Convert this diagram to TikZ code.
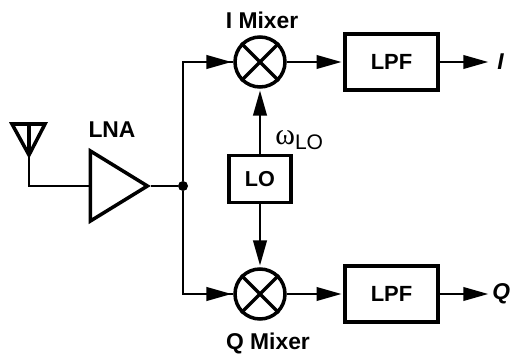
\documentclass[tikz,border=0pt]{standalone}
\usepackage{fontspec}
\setmainfont{Liberation Sans}
\newfontfamily\omegafont{Liberation Serif}
\usepackage{xcolor}
\usetikzlibrary{
  arrows.meta,
  positioning,
  shapes.geometric
}
\tikzset{
  wire/.style={line width=1.3pt},
  sig/.style={wire,-{Triangle[length=0.5cm,width=0.27cm]},shorten >=1pt},
  thick box/.style={draw,line width=2pt,inner sep=0pt},
  blockbox/.style={thick box,minimum width=1.86cm,minimum height=1.12cm,font=\fontsize{12.5}{14}\selectfont\bfseries},
  lobox/.style={thick box,minimum width=1.24cm,minimum height=0.94cm,font=\fontsize{12.3}{14}\selectfont\bfseries},
  mixer/.style={thick box,circle,minimum size=1cm},
  lna/.style={thick box,isosceles triangle,isosceles triangle apex angle=63,
    isosceles triangle stretches,minimum width=1.4cm,minimum height=1.14cm},
  tag/.style={font=\fontsize{13}{15}\selectfont\bfseries}
}
\begin{document}
\begin{tikzpicture}[x=0.02cm,y=-0.02cm]
    \useasboundingbox (0,0) rectangle (510,354);
    % antenna
    \coordinate (anttip) at (29,155);
    \draw[line width=2pt,line join=miter] (12,124) -- (45,124) -- (anttip) -- cycle;
    \draw[line width=2pt] (29,124) -- (anttip);
    % LNA and branch point
    \node[lna] (amp) at (110,186) {};
    \node[tag] (amplabel) at (112,130) {LNA};
    \node[circle,fill=black,inner sep=0pt,minimum size=0.2cm] (split) at (183,186) {};
    \draw[wire] (anttip) |- (amp.west);
    \draw[wire] (amp.east) -- (split);
    % I and Q branches
    \foreach \name/\y/\lab/\labx in {
      i/62/{\itshape I}/497,
      q/294/{\itshape Q}/492
    }{
      \node[mixer] (mix\name) at (260,\y) {};
      \draw[line width=2pt] (mix\name.45) -- (mix\name.225);
      \draw[line width=2pt] (mix\name.135) -- (mix\name.315);
      \node[blockbox] (lpf\name) at (391.5,\y) {LPF};
      \coordinate (out\name) at (490,\y);
      \node[anchor=west,inner sep=0pt,font=\fontsize{13}{15}\selectfont\bfseries] (lab\name) at (\labx,\y) {\lab};
      \draw[wire] (split) |- (mix\name.west);
      \draw[sig] (split |- mix\name) -- (mix\name.west);
      \draw[sig] (mix\name.east) -- (lpf\name.west);
      \draw[sig] (lpf\name.east) -- (out\name);
    }
    % LO
    \node[lobox] (lo) at (260,179) {LO};
    \draw[sig] (lo.north) -- (mixi.south);
    \draw[sig] (lo.south) -- (mixq.north);
    \node[anchor=west,inner sep=0pt,font=\fontsize{12}{15}\selectfont] (wlabel) at (275,140) {{\omegafont\fontsize{17}{18}\selectfont ω}\raisebox{-0.5ex}{LO}};
    % mixer names
    \node[tag] (ilabel) at (262,20) {I Mixer};
    \node[tag] (qlabel) at (268,343) {Q Mixer};
\end{tikzpicture}
\end{document}
